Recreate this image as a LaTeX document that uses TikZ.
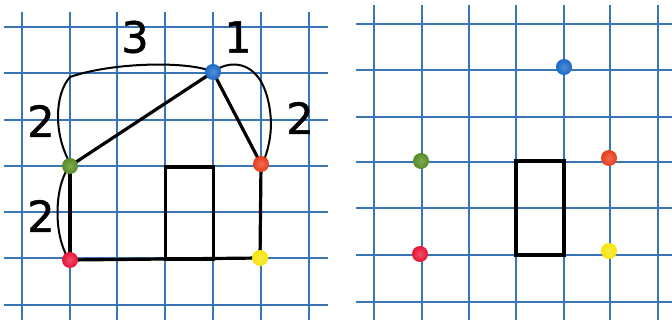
\documentclass[tikz,border=0pt]{standalone}
\usepackage{fontspec}
\setmainfont{DejaVu Sans}
\newfontfamily\numfont[FakeBold=1.2]{DejaVu Sans}
\definecolor{gridblue}{RGB}{58,118,182}
\definecolor{dotblue}{RGB}{25,105,200}
\definecolor{dotgreen}{RGB}{85,140,35}
\definecolor{dotorange}{RGB}{232,60,25}
\definecolor{dotred}{RGB}{232,20,55}
\definecolor{dotyellow}{RGB}{248,228,10}
\tikzset{
  gridline/.style={gridblue, line width=1.3pt},
  dot/.style={circle, inner sep=0pt, minimum size=16pt, shading=radial, inner color=#1!75!white, outer color=#1},
  edge/.style={black, line width=3.2pt},
  arc/.style={black, line width=2pt},
  rectbox/.style={draw=black, line width=3.2pt},
  num/.style={font=\numfont\fontsize{43}{43}\selectfont, inner sep=0pt}
}
\begin{document}
\begin{tikzpicture}[x=1pt,y=-1pt]
\useasboundingbox (0,0) rectangle (672,320);
\fill[white] (0,0) rectangle (672,320);
% left grid
\foreach \y in {27,73,120,166,212,258,305} \draw[gridline] (4,\y) -- (328,\y);
\foreach \x in {22,70,117,165,213,261,309} \draw[gridline] (\x,12) -- (\x,320);
% right grid
\foreach \y in {24,70,117,162,208,255,302} \draw[gridline] (356,\y) -- (672,\y);
\foreach \x in {374,422,469,516,564,610,658} \draw[gridline] (\x,5) -- (\x,320);
% left picture
\node[rectbox, minimum width=48pt, minimum height=92pt, inner sep=0pt] (rl) at (189.5,213) {};
\coordinate (ca) at (70,77);
\coordinate (cb) at (268,100);
\draw[arc] (70,163) .. controls (54,135) and (54,95) .. (ca);
\draw[arc] (ca) .. controls (110,63) and (180,61) .. (208,70);
\draw[arc] (213,72) .. controls (228,60) and (258,58) .. (cb);
\draw[arc] (cb) .. controls (274,125) and (270,145) .. (263,163);
\draw[arc] (68,168) .. controls (54,190) and (54,235) .. (68,258);
\coordinate (pb) at (213,72);
\coordinate (pg) at (70,166);
\coordinate (po) at (261,164);
\coordinate (pr) at (70,260);
\coordinate (py) at (260,258);
\draw[edge] (pg) -- (pb);
\draw[edge] (pb) -- (po);
\draw[edge] (pg) -- (pr);
\draw[edge] (pr) -- (py);
\draw[edge] (po) -- (py);
\node[dot=dotblue] (lb) at (pb) {};
\node[dot=dotgreen] (lg) at (pg) {};
\node[dot=dotorange] (lo) at (po) {};
\node[dot=dotred] (lr) at (pr) {};
\node[dot=dotyellow] (ly) at (py) {};
\node[num] (n3) at (135,37) {3};
\node[num] (n1) at (238,37) {1};
\node[num] (n2a) at (41,121) {2};
\node[num] (n2b) at (300,118) {2};
\node[num] (n2c) at (41,216) {2};
% right picture
\node[rectbox, minimum width=48pt, minimum height=94pt, inner sep=0pt] (rr) at (540,208) {};
\node[dot=dotblue] (rb) at (564,67) {};
\node[dot=dotgreen] (rg) at (421,161) {};
\node[dot=dotorange] (ro) at (609,158) {};
\node[dot=dotred] (rrd) at (420,254) {};
\node[dot=dotyellow] (ry) at (609,251) {};
\end{tikzpicture}
\end{document}
